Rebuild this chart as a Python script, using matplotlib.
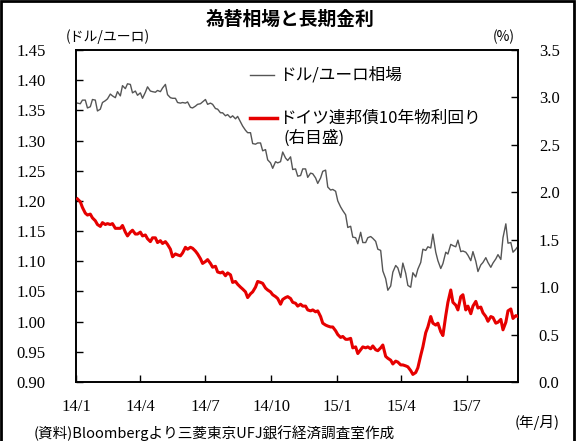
import matplotlib
matplotlib.use("Agg")
import matplotlib.pyplot as plt
from matplotlib.patches import Rectangle
import pandas as pd

# ---- data (twice weekly: Fri / following Tue) ----
dates = pd.date_range("2014-01-03", "2015-09-11", freq="W-FRI").union(
    pd.date_range("2014-01-03", "2015-09-11", freq="W-TUE"))

eurusd = [
    1.362, 1.361, 1.367, 1.367, 1.354, 1.356, 1.368, 1.367, 1.349, 1.352,
    1.363, 1.366, 1.369, 1.377, 1.374, 1.371, 1.381, 1.374, 1.391, 1.386,
    1.394, 1.393, 1.379, 1.382, 1.375, 1.379, 1.370, 1.380, 1.389, 1.382,
    1.381, 1.380, 1.383, 1.381, 1.387, 1.393, 1.376, 1.371, 1.370, 1.370,
    1.363, 1.362, 1.363, 1.362, 1.364, 1.355, 1.354, 1.357, 1.360, 1.361,
    1.364, 1.368, 1.360, 1.362, 1.360, 1.353, 1.352, 1.346, 1.346, 1.341,
    1.343, 1.338, 1.341, 1.336, 1.340, 1.331, 1.324, 1.317, 1.313, 1.313,
    1.295, 1.294, 1.296, 1.296, 1.283, 1.285, 1.268, 1.263, 1.254, 1.265,
    1.263, 1.265, 1.281, 1.271, 1.267, 1.273, 1.252, 1.253, 1.241, 1.242,
    1.253, 1.253, 1.239, 1.246, 1.245, 1.238, 1.229, 1.238, 1.249, 1.251,
    1.223, 1.218, 1.219, 1.216,
    1.200, 1.190, 1.184, 1.177, 1.156, 1.158, 1.140, 1.139, 1.129, 1.148,
    1.131, 1.131, 1.139, 1.141, 1.138, 1.133, 1.120, 1.118, 1.084, 1.071,
    1.052, 1.059, 1.082, 1.093, 1.089, 1.073, 1.097, 1.080, 1.060, 1.057,
    1.081, 1.074, 1.087, 1.098, 1.120, 1.118, 1.124, 1.122, 1.145, 1.115,
    1.101, 1.088, 1.096, 1.115, 1.112, 1.128, 1.126, 1.124, 1.135, 1.116,
    1.117, 1.115, 1.110, 1.101, 1.116, 1.100, 1.083, 1.094, 1.098, 1.106,
    1.098, 1.090, 1.097, 1.104, 1.111, 1.103, 1.139, 1.162, 1.130, 1.131,
    1.115, 1.120, 1.125,
]

bund10y = [
    1.93, 1.90, 1.84, 1.78, 1.76, 1.77, 1.73, 1.70, 1.66, 1.64,
    1.68, 1.66, 1.67, 1.66, 1.67, 1.62, 1.62, 1.62, 1.65, 1.58,
    1.54, 1.58, 1.60, 1.56, 1.56, 1.58, 1.54, 1.55, 1.51, 1.48,
    1.52, 1.52, 1.47, 1.49, 1.46, 1.48, 1.45, 1.40, 1.32, 1.35,
    1.34, 1.33, 1.36, 1.42, 1.40, 1.42, 1.41, 1.38, 1.35, 1.30,
    1.25, 1.27, 1.29, 1.25, 1.21, 1.22, 1.16, 1.15, 1.16, 1.12,
    1.15, 1.13, 1.05, 1.06, 1.03, 1.00, 0.98, 0.95, 0.89, 0.93,
    0.95, 1.00, 1.06, 1.05, 1.04, 0.99, 0.97, 0.95, 0.92, 0.90,
    0.88, 0.82, 0.87, 0.89, 0.90, 0.88, 0.84, 0.83, 0.80, 0.82,
    0.80, 0.80, 0.76, 0.75, 0.76, 0.74, 0.75, 0.69, 0.62, 0.60,
    0.59, 0.58, 0.58, 0.54,
    0.50, 0.47, 0.48, 0.45, 0.45, 0.46, 0.36, 0.37, 0.30, 0.34,
    0.37, 0.36, 0.37, 0.35, 0.38, 0.34, 0.33, 0.36, 0.39, 0.27,
    0.25, 0.23, 0.19, 0.22, 0.21, 0.18, 0.18, 0.17, 0.16, 0.12,
    0.08, 0.10, 0.15, 0.28, 0.37, 0.52, 0.58, 0.69, 0.62, 0.60,
    0.62, 0.53, 0.49, 0.70, 0.84, 0.97, 0.84, 0.81, 0.76, 0.90,
    0.92, 0.76, 0.80, 0.72, 0.80, 0.85, 0.78, 0.79, 0.73, 0.69,
    0.64, 0.69, 0.68, 0.62, 0.63, 0.66, 0.55, 0.63, 0.75, 0.77,
    0.67, 0.70, 0.69,
]

xtick_dates = ["2014-01-01", "2014-04-01", "2014-07-01", "2014-10-01",
               "2015-01-01", "2015-04-01", "2015-07-01"]
xtick_labels = ["14/1", "14/4", "14/7", "14/10", "15/1", "15/4", "15/7"]
left_ticks = [0.90, 0.95, 1.00, 1.05, 1.10, 1.15, 1.20, 1.25, 1.30, 1.35, 1.40, 1.45]
right_ticks = [0.0, 0.5, 1.0, 1.5, 2.0, 2.5, 3.0, 3.5]

title = "為替相場と長期金利"
label_fx = "ドル/ユーロ相場"
label_bund = "ドイツ連邦債10年物利回り"
label_bund2 = "(右目盛)"
source = "(資料)Bloombergより三菱東京UFJ銀行経済調査室作成"

# ---- style ----
JP = ["Noto Sans CJK JP", "DejaVu Sans"]
SERIF = ["Liberation Serif", "DejaVu Serif"]
plt.rcParams["font.family"] = SERIF

fig = plt.figure(figsize=(5.76, 4.41), dpi=100)
ax = fig.add_axes([76/576, 1-382/441, (518-76)/576, (382-50)/441])
ax2 = ax.twinx()

n = min(len(dates), len(eurusd), len(bund10y))
ax.plot(dates[:n], eurusd[:n], color="#555555", lw=1.0, zorder=3)
ax2.plot(dates[:n], bund10y[:n], color="#e60000", lw=2.2, zorder=3)

ax.set_ylim(0.90, 1.45)
ax2.set_ylim(0.0, 3.5)
ax.set_xlim(pd.Timestamp("2014-01-01"), pd.Timestamp("2015-09-11"))

ax.set_yticks(left_ticks)
ax.set_yticklabels([f"{v:.2f}" for v in left_ticks])
ax2.set_yticks(right_ticks)
ax2.set_yticklabels([f"{v:.1f}" for v in right_ticks])
ax.set_xticks([pd.Timestamp(d) for d in xtick_dates])
ax.set_xticklabels(xtick_labels)

ax.tick_params(axis="y", direction="in", length=5, width=1, pad=22, labelsize=12)
ax2.tick_params(axis="y", direction="in", length=5, width=1, pad=15, labelsize=12)
ax.tick_params(axis="x", direction="in", length=5, width=1, pad=12, labelsize=12)
for a in (ax, ax2):
    for s in a.spines.values():
        s.set_linewidth(1.2)

# units and notes
fig.text(66/576, 1-37/441, "(ドル/ユーロ)", fontfamily=JP, fontsize=10, va="center", ha="left")
fig.text(515/576, 1-37/441, "(%)", fontfamily=JP, fontsize=10, va="center", ha="right")
fig.text(560/576, 1-422/441, "(年/月)", fontfamily=JP, fontsize=10.5, va="center", ha="right")
fig.text(34/576, 1-433/441, source, fontfamily=JP, fontsize=10.5, va="center", ha="left")
fig.text(290/576, 1-19/441, title, fontfamily=JP, fontsize=13.5, fontweight="bold",
         va="center", ha="center")

# legend (manual)
ax.plot([0.394, 0.448], [0.925, 0.925], transform=ax.transAxes, color="#555555", lw=1.0)
ax.text(0.46, 0.925, label_fx, transform=ax.transAxes, fontfamily=JP, fontsize=12,
        va="center", ha="left")
ax.plot([0.394, 0.455], [0.795, 0.795], transform=ax.transAxes, color="#e60000", lw=2.5)
ax.text(0.46, 0.795, label_bund, transform=ax.transAxes, fontfamily=JP, fontsize=12,
        va="center", ha="left")
ax.text(0.47, 0.733, label_bund2, transform=ax.transAxes, fontfamily=JP, fontsize=12,
        va="center", ha="left")

# outer frame
fig.patches.append(Rectangle((0.002, -0.05), 0.995, 1.048, transform=fig.transFigure,
                             fill=False, lw=2, ec="black"))

fig.savefig("out.png", dpi=100)
